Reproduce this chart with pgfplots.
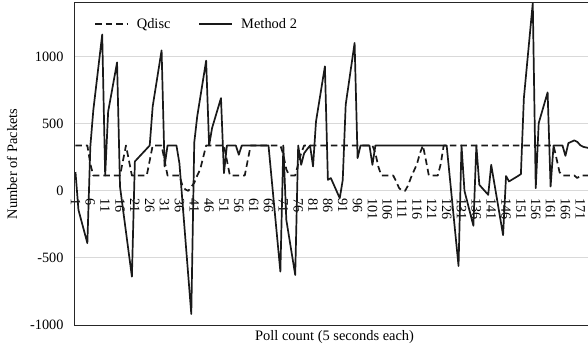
\documentclass[border=0pt]{standalone}
\usepackage{fontspec}
\setmainfont{Liberation Serif}
\usepackage{pgfplots}
\pgfplotsset{compat=1.18}
\usepackage{pgfplotstable}

\pgfplotstableread{
x y
1 338
5 338
6 200
7 114
16 114
18 338
20 114
25 114
27 338
30 338
32 114
36 114
37 40
38 10
39 0
40 30
41 60
42 114
43 160
45 338
51 338
53 114
58 114
60 338
70 338
71 270
72 160
73 114
75 114
76 200
77 280
78 338
101 338
102 280
103 180
104 114
108 114
109 70
110 20
111 0
112 0
113 40
114 100
115 150
116 200
117 280
118 338
119 230
120 114
123 114
124 200
125 338
162 338
163 240
164 140
165 114
169 114
170 95
171 114
174 114
}\qdisc

\pgfplotstableread{
x y
1 140
2 -142
5 -390
6 330
7 600
10 1165
11 114
12 590
15 957
16 30
20 -640
21 219
26 338
27 629
30 1047
31 182
32 338
35 338
36 206
40 -918
41 360
42 555
45 970
46 338
47 468
50 691
51 132
52 338
55 338
56 269
57 338
66 338
70 -602
71 338
72 -216
75 -627
76 338
77 194
78 280
79 310
80 338
81 182
82 517
85 928
86 82
87 95
90 -55
91 80
92 642
95 1102
96 244
97 338
100 338
101 194
102 338
126 338
130 -560
131 338
132 0
135 -260
136 338
137 45
140 -30
141 194
145 -330
146 110
147 70
150 110
151 125
152 690
155 1400
156 20
157 505
160 734
161 32
162 338
165 338
166 261
167 356
169 376
170 365
171 340
172 328
174 318
}\methodtwo

\begin{document}
\begin{tikzpicture}[font=\fontsize{14.5}{17}\selectfont]
\begin{axis}[
  at={(74bp,22bp)}, anchor=south west,
  scale only axis, width=514bp, height=322bp,
  xmin=0.5, xmax=173.6, ymin=-1000, ymax=1400,
  ytick={-1000,-500,0,500,1000},
  xtick={1,6,...,171},
  ymajorgrids, grid style={draw=black!15, line width=0.9bp},
  axis line style={draw=none},
  major tick length=0pt,
  tick style={draw=none},
  clip mode=individual,
  /pgf/number format/assume math mode=true,
  /pgf/number format/1000 sep={},
  yticklabel style={font=\fontsize{14.3}{16}\selectfont, xshift=-7bp},
  xticklabel style={font=\fontsize{14.3}{16}\selectfont, rotate=-90, anchor=west},
  xticklabel shift=-130bp,
  xlabel={Poll count (5 seconds each)},
  ylabel={Number of Packets},
  xlabel style={at={(axis description cs:0.507,0)}, anchor=center, yshift=-12bp},
  ylabel style={at={(axis description cs:-0.1206,0.5)}, anchor=center},
  legend columns=2,
  legend image code/.code={\draw[#1] (0bp,0bp) -- (33bp,0bp);},
  legend style={draw=none, fill=none, at={(axis description cs:0.033,0.935)}, anchor=west,
    font=\fontsize{14.5}{17}\selectfont,
    /tikz/every even column/.append style={column sep=26bp},
    /tikz/every odd column/.append style={column sep=6bp}},
]
\addplot[black!90, line width=1.7bp, line join=round, dash pattern=on 6.5bp off 4bp] table {\qdisc};
\addlegendentry{Qdisc}
\addplot[black!90, line width=1.7bp, line join=round] table {\methodtwo};
\addlegendentry{Method 2}
\draw[black!85, line width=1bp] (rel axis cs:1,1) -- (rel axis cs:0,1) -- (rel axis cs:0,0) -- (rel axis cs:1,0);
\end{axis}
\pgfresetboundingbox
\path[use as bounding box] (0,0) rectangle (588bp,347bp);
\end{tikzpicture}
\end{document}
